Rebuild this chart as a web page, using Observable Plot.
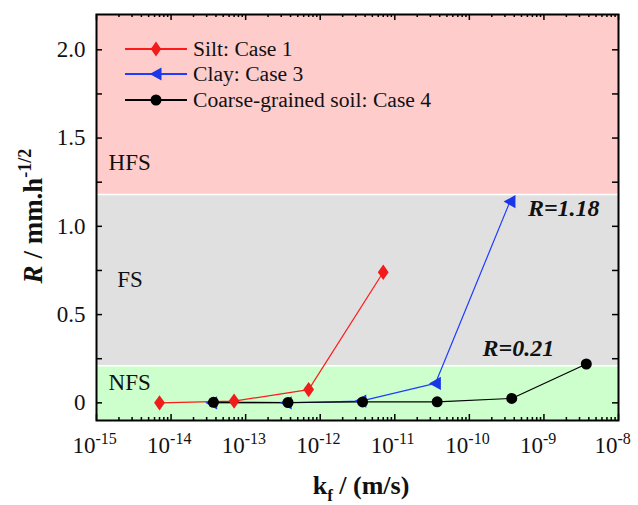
<!DOCTYPE html>
<html><head><meta charset="utf-8">
<script src="https://cdn.jsdelivr.net/npm/d3@7"></script>
<script src="https://cdn.jsdelivr.net/npm/@observablehq/plot@0.6"></script>
<style>body{margin:0;background:#fff} svg{display:block}</style>
</head><body><div id="chart"></div>
<script>
// ---- data ----
const siltK = [7e-15, 7e-14, 7e-13, 7e-12];
const siltR = [0.0, 0.01, 0.075, 0.74];
const clayK = [3.5e-14, 3.5e-13, 3.5e-12, 3.5e-11, 3.5e-10];
const clayR = [0.0, 0.0, 0.01, 0.11, 1.14];
const coarseK = [3.7e-14, 3.7e-13, 3.7e-12, 3.7e-11, 3.7e-10, 3.7e-9];
const coarseR = [0.003, 0.002, 0.005, 0.006, 0.025, 0.22];
const seriesNames = ["Silt: Case 1", "Clay: Case 3", "Coarse-grained soil: Case 4"];
const xDomain = [1e-15, 1e-8];
const yDomain = [-0.1, 2.2];
const xMajor = [1e-15, 1e-14, 1e-13, 1e-12, 1e-11, 1e-10, 1e-9, 1e-8];
const xExponents = ["-15", "-14", "-13", "-12", "-11", "-10", "-9", "-8"];
const yMajor = [0, 0.5, 1.0, 1.5, 2.0];
const yLabels = ["0", "0.5", "1.0", "1.5", "2.0"];
const yMinor = [0.25, 0.75, 1.25, 1.75];
const bandNames = ["NFS", "FS", "HFS"];
const bandLow = [-0.1, 0.21, 1.18];
const bandHigh = [0.21, 1.18, 2.2];
const bandLabelK = [1.45e-15, 1.9e-15, 1.45e-15];
const bandLabelR = [0.115, 0.70, 1.36];
const noteText = ["R=1.18", "R=0.21"];
const noteK = [6.1e-10, 1.5e-10];
const noteR = [1.10, 0.31];

// ---- build tables ----
const silt = siltK.map((k, i) => ({k, r: siltR[i]}));
const clay = clayK.map((k, i) => ({k, r: clayR[i]}));
const coarse = coarseK.map((k, i) => ({k, r: coarseR[i]}));
const bands = bandNames.map((n, i) => ({n, y1: bandLow[i], y2: bandHigh[i], lk: bandLabelK[i], lr: bandLabelR[i]}));
const notes = noteText.map((t, i) => ({t, k: noteK[i], r: noteR[i]}));
const xMinor = [];
for (let e = -15; e < -8; e++) for (let m = 2; m <= 9; m++) xMinor.push(m * Math.pow(10, e));

const W = 638, H = 505, mL = 96, mR = 20, mT = 14, mB = 85;
const fw = W - mL - mR, fh = H - mT - mB;

const RED = "#f01c1c", REDLINE = "#ff1a1a", BLUE = "#1a36e8", BLUELINE = "#1f3dff", BLACK = "#000";
const bandColors = ["#ccffcc", "#e0e0e0", "#ffcccc"];
const ff = "Liberation Serif, Times New Roman, serif";

const diamond = {draw(ctx, size) { const r = Math.sqrt(size / Math.PI);
  ctx.moveTo(0, -r * 1.35); ctx.lineTo(r * 0.95, 0); ctx.lineTo(0, r * 1.35); ctx.lineTo(-r * 0.95, 0); ctx.closePath(); }};
const triLeft = {draw(ctx, size) { const r = Math.sqrt(size / Math.PI);
  ctx.moveTo(-r * 1.15, 0); ctx.lineTo(r * 1.0, -r * 1.2); ctx.lineTo(r * 1.0, r * 1.2); ctx.closePath(); }};

const plot = Plot.plot({
  width: W, height: H, marginLeft: mL, marginRight: mR, marginTop: mT, marginBottom: mB,
  style: {fontFamily: ff, fontSize: "22px", background: "white", overflow: "visible"},
  x: {type: "log", domain: xDomain, axis: null},
  y: {domain: yDomain, axis: null},
  marks: [
    Plot.rect(bands, {x1: xDomain[0], x2: xDomain[1], y1: "y1", y2: "y2", fill: (d, i) => bandColors[i]}),
    Plot.ruleY([bandLow[1], bandLow[2]], {stroke: "white", strokeWidth: 1.5}),
    Plot.text(bands, {x: "lk", y: "lr", text: "n", textAnchor: "start", fontSize: 23, fill: "#111"}),
    Plot.text(notes, {x: "k", y: "r", text: "t", textAnchor: "start", fontSize: 24, fontWeight: "bold", fontStyle: "italic", fill: "#111"}),
    // series
    Plot.line(silt, {x: "k", y: "r", stroke: REDLINE, strokeWidth: 1.2}),
    Plot.line(clay, {x: "k", y: "r", stroke: BLUELINE, strokeWidth: 1.2}),
    Plot.line(coarse, {x: "k", y: "r", stroke: BLACK, strokeWidth: 1.2}),
    Plot.dot(silt, {x: "k", y: "r", symbol: diamond, r: 5.7, fill: RED, stroke: "none"}),
    Plot.dot(clay, {x: "k", y: "r", symbol: triLeft, r: 5.5, fill: BLUE, stroke: "none"}),
    Plot.dot(coarse, {x: "k", y: "r", r: 5.5, fill: BLACK, stroke: "none"}),
    // ticks (inward)
    Plot.tickX(xMajor, {x: d => d, insetTop: fh - 6, stroke: "black", strokeWidth: 1.5}),
    Plot.tickX(xMinor, {x: d => d, insetTop: fh - 3, stroke: "black", strokeWidth: 1.5}),
    Plot.tickX(xMajor, {x: d => d, insetBottom: fh - 6, stroke: "black", strokeWidth: 1.5}),
    Plot.tickX(xMinor, {x: d => d, insetBottom: fh - 3, stroke: "black", strokeWidth: 1.5}),
    Plot.tickY(yMajor.concat(yMinor), {y: d => d, insetRight: fw - 6, stroke: "black", strokeWidth: 1.5}),
    Plot.tickY(yMajor.concat(yMinor), {y: d => d, insetLeft: fw - 6, stroke: "black", strokeWidth: 1.5}),
    Plot.frame({stroke: "black", strokeWidth: 2}),
    // tick labels
    Plot.text(xMajor, {x: d => d, frameAnchor: "bottom", text: () => "10", textAnchor: "end", dx: -1, dy: 32, fontSize: 23, fill: "#111"}),
    Plot.text(xMajor, {x: d => d, frameAnchor: "bottom", text: (d, i) => xExponents[i], textAnchor: "start", dx: -1, dy: 23, fontSize: 16, fill: "#111"}),
    Plot.text(yMajor, {y: d => d, frameAnchor: "left", text: (d, i) => yLabels[i], textAnchor: "end", dx: -11, fontSize: 23, fill: "#111"})
  ]
});
document.getElementById("chart").appendChild(plot);

// ---- axis titles & legend ----
const svg = d3.select(plot);
const xt = svg.append("text").attr("x", 361).attr("y", 494).attr("text-anchor", "middle")
  .attr("font-family", ff).attr("font-size", 26).attr("font-weight", "bold").attr("fill", "#111");
xt.append("tspan").text("k");
xt.append("tspan").attr("font-size", 17).attr("dy", 7).text("f");
xt.append("tspan").attr("dy", -7).text(" / (m/s)");

const yt = svg.append("text").attr("transform", "translate(42,216) rotate(-90)").attr("text-anchor", "middle")
  .attr("font-family", ff).attr("font-size", 27).attr("font-weight", "bold").attr("fill", "#111");
yt.append("tspan").attr("font-style", "italic").text("R");
yt.append("tspan").text(" / mm.h");
yt.append("tspan").attr("font-size", 18).attr("dy", -11).text("-1/2");

const legColors = [REDLINE, BLUELINE, BLACK];
const legFill = [RED, BLUE, BLACK];
const legSyms = [diamond, triLeft, d3.symbolCircle];
const legY = [49, 74, 100];
seriesNames.forEach((name, i) => {
  const g = svg.append("g");
  g.append("line").attr("x1", 125).attr("x2", 187).attr("y1", legY[i]).attr("y2", legY[i])
    .attr("stroke", legColors[i]).attr("stroke-width", 2);
  g.append("path").attr("transform", `translate(156,${legY[i]})`)
    .attr("d", d3.symbol(legSyms[i], 5.5 * 5.5 * Math.PI)()).attr("fill", legFill[i]);
  g.append("text").attr("x", 193).attr("y", legY[i]).attr("dy", "0.32em").attr("text-anchor", "start")
    .attr("font-family", ff).attr("font-size", 21.6).attr("fill", "#111").text(name);
});
</script>
</body></html>
